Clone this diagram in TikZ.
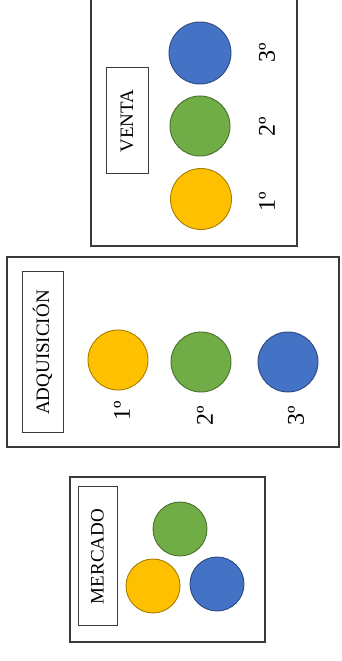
\documentclass[tikz,border=0pt]{standalone}
\usepackage{fontspec}
\setmainfont{Liberation Serif}
\usepackage{xcolor}
\usetikzlibrary{calc,positioning}
\definecolor{amarillo}{HTML}{FFC000}
\definecolor{verde}{HTML}{70AD47}
\definecolor{azul}{HTML}{4472C4}
\definecolor{borde}{HTML}{3A3A3A}
\tikzset{>=latex}
\tikzset{
  marco/.style={draw=borde,line width=1.3pt},
  rotulo/.style={draw=borde,line width=1pt,rotate=90,inner sep=0pt,
    font=\fontsize{19}{19}\selectfont},
  ficha/.style={circle,draw=#1!65!black,fill=#1,line width=0.9pt,
    minimum size=60pt,inner sep=0pt},
  orden/.style={rotate=90,inner sep=0pt,font=\fontsize{24}{24}\selectfont}
}

\begin{document}
\begin{tikzpicture}[x=1pt,y=1pt]
  \useasboundingbox (0,0) rectangle (341,661);

  % mercado
  \draw[marco] (70,19) rectangle (265,184);
  \node[rotulo,minimum width=139pt,minimum height=39pt] (mercado) at (97.5,104.5) {MERCADO};
  \node[ficha=verde,minimum size=54pt] (m2) at (180,132) {};
  \node[ficha=amarillo,minimum size=54pt] (m1) at (153,75) {};
  \node[ficha=azul,minimum size=54pt] (m3) at (217,77) {};

  % adquisicion
  \draw[marco] (7,214) rectangle (339,404);
  \node[rotulo,minimum width=161pt,minimum height=41pt] (adquisicion) at (42.5,308.5) {ADQUISICIÓN};
  \node[ficha=amarillo] (a1) at (118,301) {};
  \node[ficha=verde] (a2) at (201,299) {};
  \node[ficha=azul] (a3) at (288,299) {};
  \node[orden] (a1txt) at ($(a1)+(4,-51)$) {1º};
  \node[orden] (a2txt) at ($(a2)+(4,-54)$) {2º};
  \node[orden] (a3txt) at ($(a3)+(8,-54)$) {3º};

  % venta
  \draw[marco] (91,415) rectangle (297,666);
  \node[rotulo,minimum width=106pt,minimum height=42pt] (venta) at (127,540) {VENTA};
  \node[ficha=amarillo,minimum size=61pt] (v1) at (201,462) {};
  \node[ficha=verde] (v2) at (200,535) {};
  \node[ficha=azul,minimum size=62pt] (v3) at (200,608) {};
  \node[orden] (v1txt) at ($(v1)+(66,-3)$) {1º};
  \node[orden] (v2txt) at ($(v2)+(67,-1)$) {2º};
  \node[orden] (v3txt) at ($(v3)+(67,0)$) {3º};
\end{tikzpicture}
\end{document}
